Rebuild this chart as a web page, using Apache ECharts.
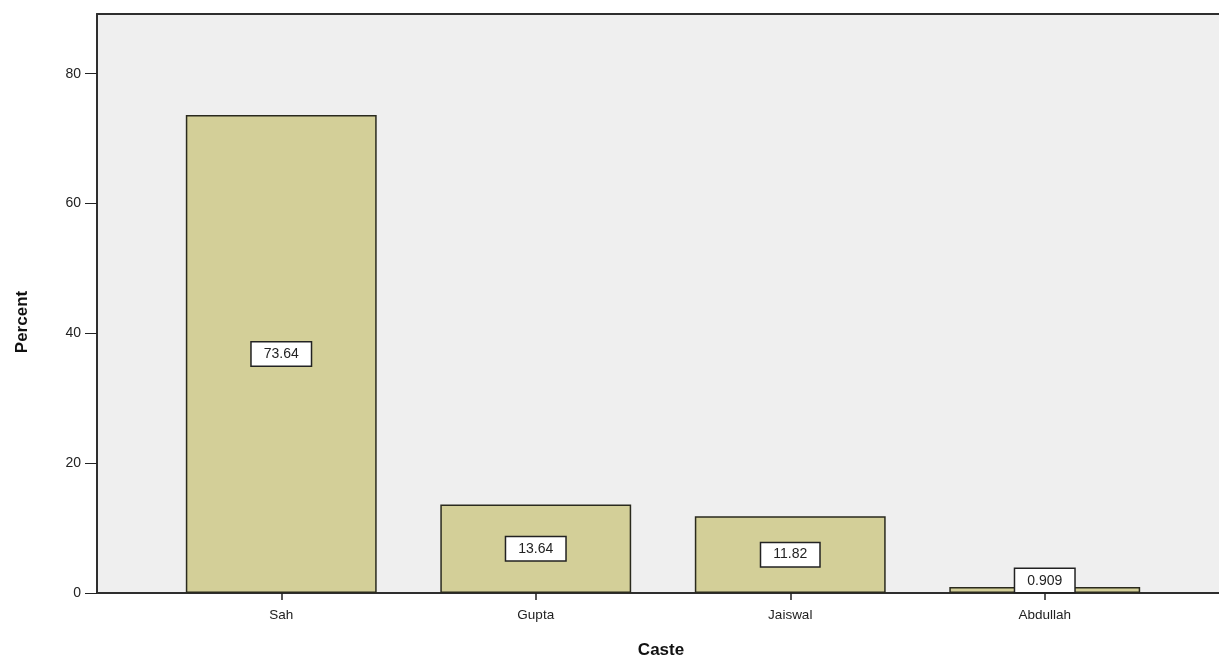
<!DOCTYPE html>
<html>
<head>
<meta charset="utf-8">
<script src="https://cdn.jsdelivr.net/npm/echarts@6/dist/echarts.min.js"></script>
<style>
  html, body { margin: 0; padding: 0; background: #ffffff; }
  #chart { width: 1219px; height: 662px; }
</style>
</head>
<body>
<div id="chart"></div>
<script>
// Caste distribution (percent of respondents)
const categories = ['Sah', 'Gupta', 'Jaiswal', 'Abdullah'];
const percentValues = [73.64, 13.64, 11.82, 0.909];
const valueLabels = ['73.64', '13.64', '11.82', '0.909'];
const yTicks = [0, 20, 40, 60, 80];

const Y_MAX = 89.2;
const FONT = '"Liberation Sans", Arial, sans-serif';
const FRAME = { color: '#2e2e2e', width: 2 };

const chart = echarts.init(document.getElementById('chart'), null, { renderer: 'canvas' });

const barData = percentValues.map((v, i) => {
  const item = { value: v };
  if (v < 5) {
    item.label = { position: 'insideBottom', distance: 1 };
  }
  return item;
});

// helper for the open-ended frame lines along top and bottom of the panel
const frameAxis = (pos) => ({
  gridIndex: 0, type: 'value', position: pos, min: 0, max: 1,
  axisLine: { show: true, onZero: false, lineStyle: FRAME },
  axisTick: { show: false }, axisLabel: { show: false }, splitLine: { show: false }
});

chart.setOption({
  animation: false,
  backgroundColor: '#ffffff',
  grid: [
    // shaded plot panel carrying the percent scale; open on the right
    {
      left: 97, right: 0, top: 14, bottom: 69,
      show: true,
      backgroundColor: '#efefef',
      borderWidth: 0
    },
    // inner band where the bars sit
    { left: 154, right: 47, top: 14, bottom: 69 }
  ],
  xAxis: [
    frameAxis('bottom'),
    {
      gridIndex: 1,
      type: 'category',
      data: categories,
      axisLine: { show: false },
      axisTick: { show: true, alignWithLabel: true, length: 7, lineStyle: { color: '#222', width: 1.5 } },
      axisLabel: { color: '#222', fontSize: 13.5, fontFamily: FONT, margin: 15 }
    },
    frameAxis('top')
  ],
  yAxis: [
    {
      gridIndex: 0,
      type: 'value',
      min: 0, max: Y_MAX, interval: 20,
      splitLine: { show: false },
      axisLine: { show: true, lineStyle: FRAME },
      axisTick: { show: true, length: 12, lineStyle: { color: '#222', width: 1 } },
      axisLabel: {
        color: '#222', fontSize: 14, fontFamily: FONT, margin: 16,
        showMaxLabel: false,
        formatter: v => (yTicks.indexOf(v) >= 0 ? String(v) : '')
      }
    },
    { gridIndex: 1, type: 'value', min: 0, max: Y_MAX, show: false }
  ],
  series: [
    {
      type: 'bar',
      xAxisIndex: 1,
      yAxisIndex: 1,
      data: barData,
      barCategoryGap: '25%',
      itemStyle: { color: '#d3cf98', borderColor: '#2a2a1e', borderWidth: 1.5 },
      label: {
        show: true,
        position: 'inside',
        formatter: p => valueLabels[p.dataIndex],
        color: '#222',
        fontSize: 14,
        fontFamily: FONT,
        backgroundColor: '#ffffff',
        borderColor: '#222',
        borderWidth: 1.5,
        padding: [5, 12, 4, 12]
      }
    }
  ],
  graphic: [
    {
      type: 'text',
      x: 22, y: 322,
      rotation: Math.PI / 2,
      style: {
        text: 'Percent',
        fill: '#111',
        font: 'bold 17px ' + FONT,
        align: 'center',
        verticalAlign: 'middle'
      }
    },
    {
      type: 'text',
      x: 661, y: 650,
      style: {
        text: 'Caste',
        fill: '#111',
        font: 'bold 17px ' + FONT,
        align: 'center',
        verticalAlign: 'middle'
      }
    }
  ]
});
</script>
</body>
</html>
